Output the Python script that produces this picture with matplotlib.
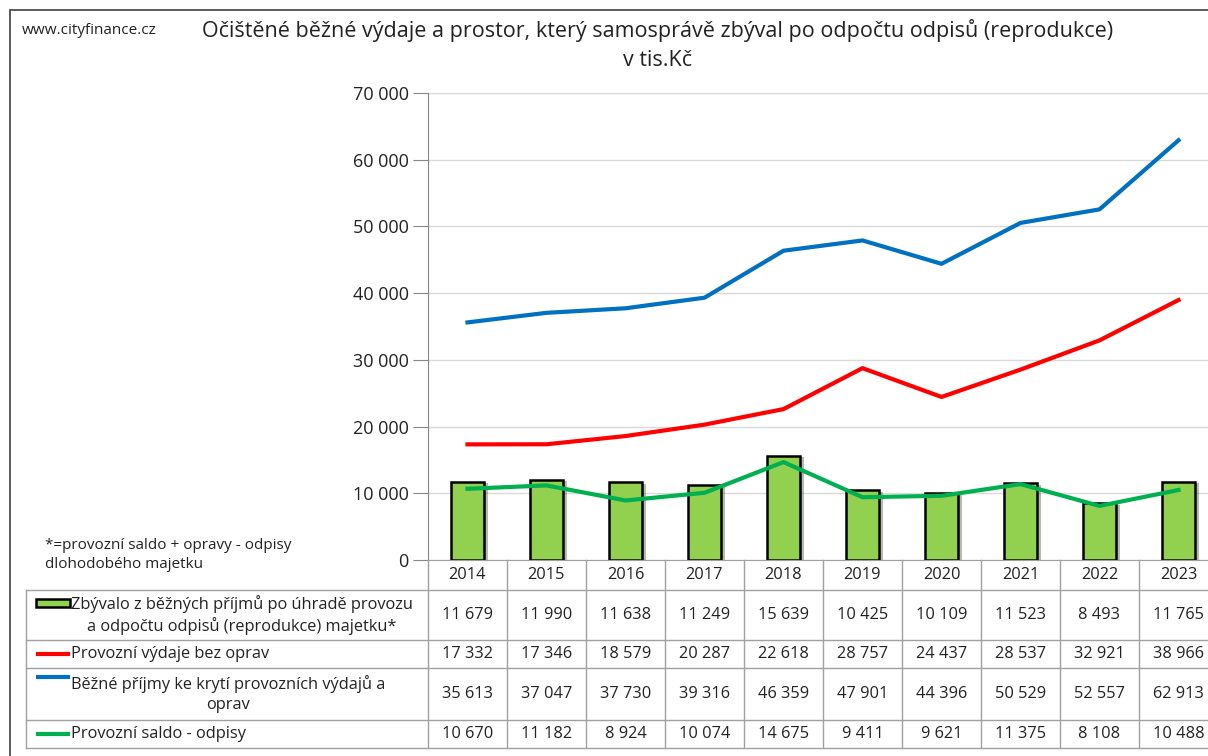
import matplotlib.pyplot as plt
import matplotlib.patheffects as pe
from matplotlib.patches import Rectangle
from matplotlib.ticker import FuncFormatter, MultipleLocator

# data
years = ['2014', '2015', '2016', '2017', '2018', '2019', '2020', '2021', '2022', '2023']
zbyvalo = [11679, 11990, 11638, 11249, 15639, 10425, 10109, 11523, 8493, 11765]
vydaje = [17332, 17346, 18579, 20287, 22618, 28757, 24437, 28537, 32921, 38966]
prijmy = [35613, 37047, 37730, 39316, 46359, 47901, 44396, 50529, 52557, 62913]
saldo = [10670, 11182, 8924, 10074, 14675, 9411, 9621, 11375, 8108, 10488]

row_labels = [
    'Zbývalo z běžných příjmů po úhradě provozu\na odpočtu odpisů (reprodukce) majetku*',
    'Provozní výdaje bez oprav',
    'Běžné příjmy ke krytí provozních výdajů a\noprav',
    'Provozní saldo - odpisy',
]
rows = [zbyvalo, vydaje, prijmy, saldo]
colors = ['#92D050', '#FF0000', '#0070C0', '#00B050']

plt.rcParams['font.family'] = ['Open Sans', 'DejaVu Sans']

W, H = 1208, 756
fig = plt.figure(figsize=(W / 100, H / 100), dpi=100)


def fmt(v, pos=None):
    return f'{int(v):,}'.replace(',', ' ')


# frame of the chart area
fig.add_artist(Rectangle((10 / W, -0.1), 1.2, (756 - 10) / H + 0.1, transform=fig.transFigure,
                         fill=False, edgecolor='#404040', linewidth=1.2))

fig.text(22 / W, 1 - 30 / H, 'www.cityfinance.cz', fontsize=11, va='center', ha='left', color='#222222')
fig.text(658 / W, 1 - 30 / H, 'Očištěné běžné výdaje a prostor, který samosprávě zbýval po odpočtu odpisů (reprodukce)',
         fontsize=15.5, ha='center', va='center', color='#222222')
fig.text(658 / W, 1 - 60 / H, 'v tis.Kč', fontsize=15.5, ha='center', va='center', color='#222222')
fig.text(45 / W, 1 - 555 / H, '*=provozní saldo + opravy - odpisy\ndlohodobého majetku', fontsize=11,
         ha='left', va='center', linespacing=1.45, color='#222222')

# main plot
ax = fig.add_axes([428 / W, (756 - 560) / H, 790 / W, 467 / H])
x = list(range(len(years)))
ax.bar(x, zbyvalo, width=0.43, color=colors[0], edgecolor='black', linewidth=1.8, zorder=2,
       path_effects=[pe.SimplePatchShadow(offset=(2.5, -1), alpha=0.35), pe.Normal()])
ax.plot(x, vydaje, color=colors[1], linewidth=3, zorder=3)
ax.plot(x, prijmy, color=colors[2], linewidth=3, zorder=3)
ax.plot(x, saldo, color=colors[3], linewidth=3, zorder=3)

ax.set_xlim(-0.5, 9.5)
ax.set_ylim(0, 70000)
ax.yaxis.set_major_locator(MultipleLocator(10000))
ax.yaxis.set_major_formatter(FuncFormatter(fmt))
ax.grid(axis='y', color='#D9D9D9', linewidth=1, zorder=0)
ax.set_xticks([])
for s in ['top', 'right']:
    ax.spines[s].set_visible(False)
ax.spines['left'].set_color('#868686')
ax.spines['bottom'].set_color('#A0A0A0')
ax.tick_params(axis='y', length=11, color='#868686', labelsize=13, labelcolor='#222222', pad=3)

# data table
tab = fig.add_axes([428 / W, (756 - 748) / H, 790 / W, 188 / H])
tab.set_xlim(-0.5, 9.5)
tab.set_ylim(188, 0)
tab.axis('off')
lc = '#A0A0A0'
left = -0.5 - (428 - 26) / 79
bounds = [0, 30, 80, 108, 160, 188]

for yb in bounds[1:]:
    tab.plot([left, 10], [yb, yb], color=lc, linewidth=1, clip_on=False)
tab.plot([left, left], [30, 188], color=lc, linewidth=1, clip_on=False)
for i in range(11):
    tab.plot([i - 0.5, i - 0.5], [0, 188], color=lc, linewidth=1, clip_on=False)

for i, yr in enumerate(years):
    tab.text(i, 15, yr, ha='center', va='center', fontsize=11.8, color='#222222')

for r, vals in enumerate(rows):
    yc = (bounds[r + 1] + bounds[r + 2]) / 2
    for i, v in enumerate(vals):
        tab.text(i, yc, fmt(v), ha='center', va='center', fontsize=11.8, color='#222222')

key_l = -0.5 - (428 - 36) / 79
key_r = -0.5 - (428 - 70) / 79
txt_x = -0.5 - (428 - 71) / 79
first_line = [43, 94, 117, 174]
for r, lab in enumerate(row_labels):
    yc = (bounds[r + 1] + bounds[r + 2]) / 2
    ky = first_line[r]
    if r == 0:
        tab.add_patch(Rectangle((key_l, ky - 4), key_r - key_l, 8, facecolor=colors[0],
                                edgecolor='black', linewidth=1.8, clip_on=False))
    else:
        tab.plot([key_l, key_r], [ky, ky], color=colors[r], linewidth=3, clip_on=False,
                 solid_capstyle='butt')
    tab.text(txt_x, yc, lab, ha='left', va='center', multialignment='center', fontsize=11.8,
             color='#222222', linespacing=1.3, clip_on=False)

fig.savefig('out.png', dpi=100)
